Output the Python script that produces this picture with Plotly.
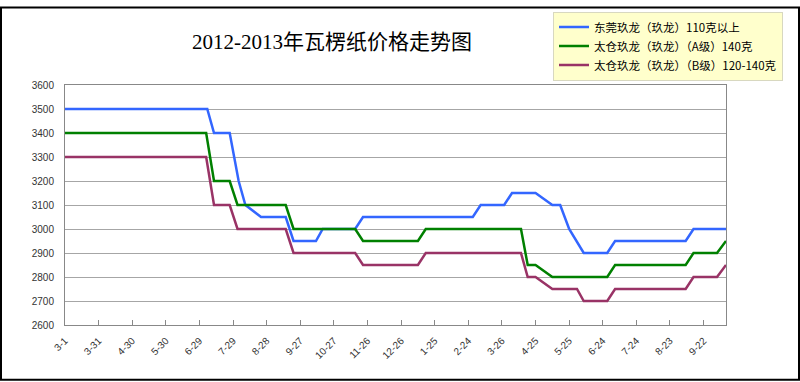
import plotly.graph_objects as go

# ---- data ----
title_text = "2012-2013年瓦楞纸价格走势图"

series_names = [
    "东莞玖龙（玖龙）110克以上",
    "太仓玖龙（玖龙）（A级）140克",
    "太仓玖龙（玖龙）（B级）120-140克",
]
series_colors = ["#3366FF", "#008000", "#993366"]

dg_dates = ["2012-03-01", "2012-07-06", "2012-07-12", "2012-07-26", "2012-08-03",
            "2012-08-09", "2012-08-23", "2012-09-14", "2012-09-21", "2012-10-11",
            "2012-10-17", "2012-11-15", "2012-11-22", "2013-02-28", "2013-03-07",
            "2013-03-28", "2013-04-04", "2013-04-25", "2013-05-10", "2013-05-17",
            "2013-05-25", "2013-06-07", "2013-06-28", "2013-07-05", "2013-09-06",
            "2013-09-13", "2013-10-12"]
dg_prices = [3500, 3500, 3400, 3400, 3200,
             3100, 3050, 3050, 2950, 2950,
             3000, 3000, 3050, 3050, 3100,
             3100, 3150, 3150, 3100, 3100,
             3000, 2900, 2900, 2950, 2950,
             3000, 3000]

tca_dates = ["2012-03-01", "2012-07-05", "2012-07-12", "2012-07-26", "2012-08-02",
             "2012-09-14", "2012-09-21", "2012-11-15", "2012-11-22", "2013-01-10",
             "2013-01-17", "2013-04-12", "2013-04-18", "2013-04-25", "2013-05-10",
             "2013-06-28", "2013-07-05", "2013-09-06", "2013-09-13", "2013-10-04",
             "2013-10-12"]
tca_prices = [3400, 3400, 3200, 3200, 3100,
              3100, 3000, 3000, 2950, 2950,
              3000, 3000, 2850, 2850, 2800,
              2800, 2850, 2850, 2900, 2900,
              2950]

tcb_dates = ["2012-03-01", "2012-07-05", "2012-07-12", "2012-07-26", "2012-08-02",
             "2012-09-14", "2012-09-21", "2012-11-15", "2012-11-22", "2013-01-10",
             "2013-01-17", "2013-04-12", "2013-04-18", "2013-04-25", "2013-05-10",
             "2013-06-01", "2013-06-07", "2013-06-28", "2013-07-05", "2013-09-06",
             "2013-09-13", "2013-10-04", "2013-10-12"]
tcb_prices = [3300, 3300, 3100, 3100, 3000,
              3000, 2900, 2900, 2850, 2850,
              2900, 2900, 2800, 2800, 2750,
              2750, 2700, 2700, 2750, 2750,
              2800, 2800, 2850]

tick_dates = ["2012-03-01", "2012-03-31", "2012-04-30", "2012-05-30", "2012-06-29",
              "2012-07-29", "2012-08-28", "2012-09-27", "2012-10-27", "2012-11-26",
              "2012-12-26", "2013-01-25", "2013-02-24", "2013-03-26", "2013-04-25",
              "2013-05-25", "2013-06-24", "2013-07-24", "2013-08-23", "2013-09-22"]
tick_labels = ["3-1", "3-31", "4-30", "5-30", "6-29", "7-29", "8-28", "9-27",
               "10-27", "11-26", "12-26", "1-25", "2-24", "3-26", "4-25", "5-25",
               "6-24", "7-24", "8-23", "9-22"]

x_range = ["2012-03-01", "2013-10-12"]
y_range = [2600, 3600]

# ---- figure ----
fig = go.Figure()
for name, xs, ys, col in zip(series_names,
                             [dg_dates, tca_dates, tcb_dates],
                             [dg_prices, tca_prices, tcb_prices],
                             series_colors):
    fig.add_trace(go.Scatter(x=xs, y=ys, mode="lines", name=name,
                             line=dict(color=col, width=2.5)))

W, H = 800, 382
L, R, T, B = 65, 74, 80, 57
pw, ph = W - L - R, H - T - B

def px_to_paper(px, py):
    return (px - L) / pw, (H - B - py) / ph

bx0, by0 = px_to_paper(1, 1)
bx1, by1 = px_to_paper(799, 381)
lgx, lgy = px_to_paper(553, 5)

fig.update_layout(
    width=W, height=H,
    margin=dict(l=L, r=R, t=T, b=B, pad=0),
    paper_bgcolor="white", plot_bgcolor="white",
    font=dict(family="Liberation Sans, Arial, Noto Sans CJK SC", size=10, color="#333333"),
    title=dict(text=title_text, x=332 / W, y=1 - 42 / H, xref="container", yref="container",
               xanchor="center", yanchor="middle",
               font=dict(family="Liberation Serif, Noto Sans CJK SC", size=21, color="#000000")),
    showlegend=True,
    legend=dict(x=lgx, y=lgy, xanchor="left", yanchor="top",
                bgcolor="#FFFFCC", bordercolor="#D8D8C0", borderwidth=1,
                itemwidth=30, tracegroupgap=0,
                font=dict(family="Noto Sans CJK SC", size=11.5, color="#000000")),
    xaxis=dict(type="date", range=x_range, tickmode="array",
               tickvals=tick_dates, ticktext=tick_labels, tickangle=-45,
               ticks="inside", ticklen=5, tickcolor="#888888",
               showgrid=False, zeroline=False,
               showline=True, linecolor="#888888", linewidth=1, mirror=True,
               ticklabelstandoff=5,
               tickfont=dict(size=10, color="#333333")),
    yaxis=dict(range=y_range, dtick=100, tick0=2600,
               showgrid=True, gridcolor="#A6A6A6", gridwidth=1,
               zeroline=False, showline=True, linecolor="#888888", linewidth=1, mirror=True,
               ticks="", ticklabelstandoff=8,
               tickfont=dict(size=10, color="#333333")),
    shapes=[dict(type="rect", xref="paper", yref="paper",
                 x0=bx0, y0=by0, x1=bx1, y1=by1,
                 line=dict(color="#000000", width=2), layer="above")],
)

fig.write_html("out.html", config={"displayModeBar": False})

# remove default page margin so the figure sits at the window origin
with open("out.html", "r", encoding="utf-8") as f:
    html = f.read()
html = html.replace("<head>", "<head><style>html,body{margin:0;padding:0;overflow:hidden;}</style>", 1)
with open("out.html", "w", encoding="utf-8") as f:
    f.write(html)
